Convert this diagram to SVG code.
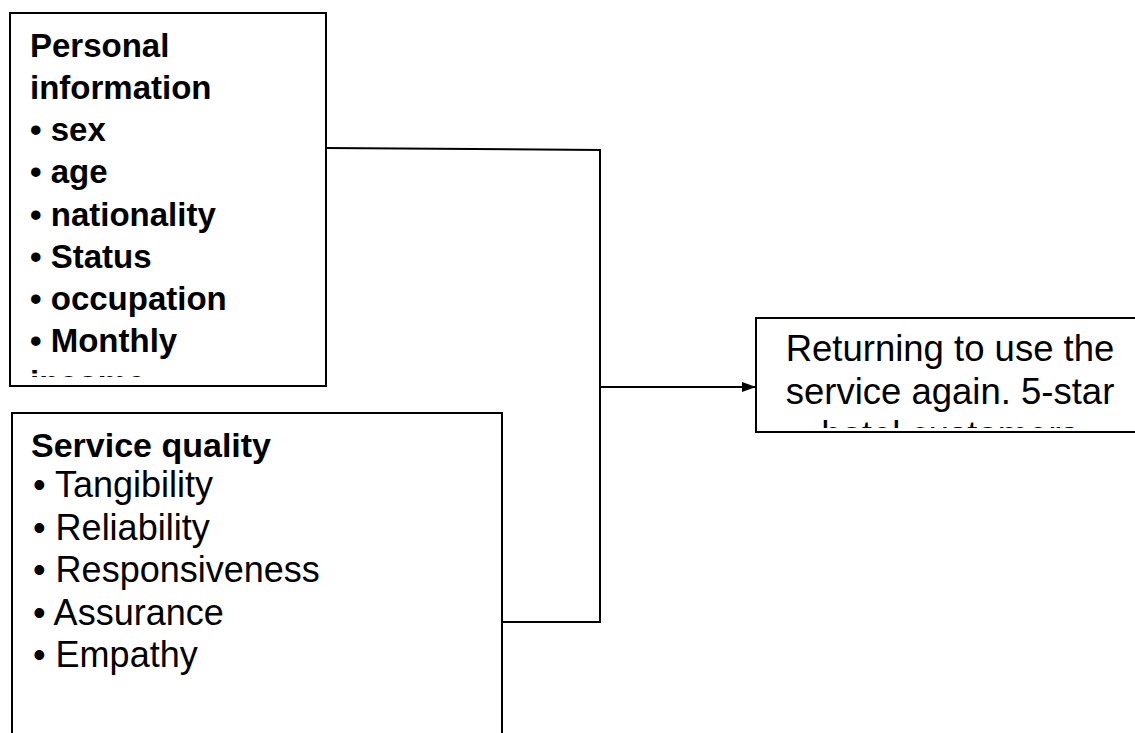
<svg xmlns="http://www.w3.org/2000/svg" width="1135" height="733" viewBox="0 0 1135 733">
<style>
.box{fill:#fff;stroke:#000;stroke-width:2}
.ln{fill:none;stroke:#000;stroke-width:2}
.t{font-family:"Liberation Sans",Arial,sans-serif;fill:#000}
.b1{font-size:33px;font-weight:bold}
.h2{font-size:34px;font-weight:bold}
.r2{font-size:36px}
.r3{font-size:36.5px}
</style>
<defs>
<marker id="arr" markerWidth="14" markerHeight="10" refX="14" refY="5" orient="auto" markerUnits="userSpaceOnUse">
<path d="M0,0 L14,5 L0,10 z" fill="#000"/>
</marker>
<clipPath id="c1"><rect x="10" y="13" width="316" height="364"/></clipPath>
<clipPath id="c3"><rect x="756" y="318" width="390" height="110"/></clipPath>
</defs>
<g id="connectors">
<polyline class="ln" points="326,148 600,150 600,622 502,622"/>
<line class="ln" x1="600" y1="387" x2="756" y2="387" marker-end="url(#arr)"/>
</g>
<g id="personal-information">
<rect class="box" x="10" y="13" width="316" height="373"/>
<g clip-path="url(#c1)">
<text class="t b1" x="30" y="57">Personal</text>
<text class="t b1" x="30" y="99">information</text>
<text class="t b1" x="30" y="141">• sex</text>
<text class="t b1" x="30" y="183">• age</text>
<text class="t b1" x="30" y="226">• nationality</text>
<text class="t b1" x="30" y="268">• Status</text>
<text class="t b1" x="30" y="310">• occupation</text>
<text class="t b1" x="30" y="352">• Monthly</text>
<text class="t b1" x="30" y="394">income</text>
</g>
</g>
<g id="service-quality">
<rect class="box" x="12" y="413" width="490" height="340"/>
<text class="t h2" x="31" y="457">Service quality</text>
<text class="t r2" x="33" y="497">• Tangibility</text>
<text class="t r2" x="33" y="540">• Reliability</text>
<text class="t r2" x="33" y="582">• Responsiveness</text>
<text class="t r2" x="33" y="625">• Assurance</text>
<text class="t r2" x="33" y="667">• Empathy</text>
</g>
<g id="returning">
<rect class="box" x="756" y="318" width="390" height="114"/>
<g clip-path="url(#c3)">
<text class="t r3" x="950" y="361" text-anchor="middle">Returning to use the</text>
<text class="t r3" x="950" y="404" text-anchor="middle">service again. 5-star</text>
<text class="t r3" x="950" y="447" text-anchor="middle">hotel customers</text>
</g>
</g>
</svg>
